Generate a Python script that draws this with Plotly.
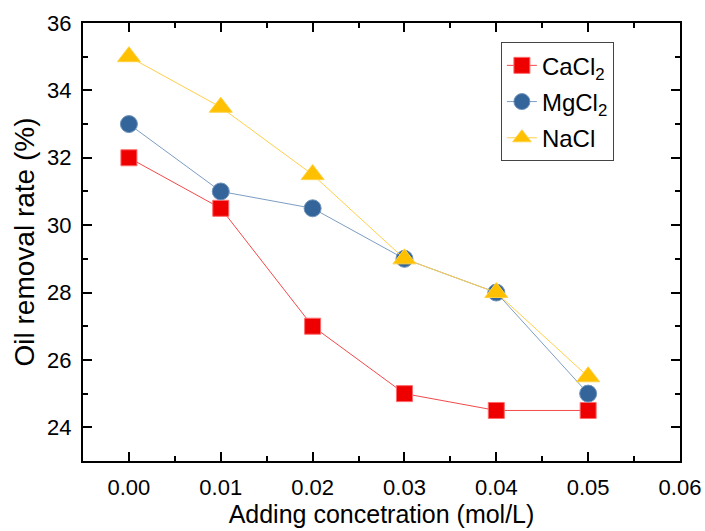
import plotly.graph_objects as go

conc = [0.00, 0.01, 0.02, 0.03, 0.04, 0.05]
cacl2 = [32, 30.5, 27, 25, 24.5, 24.5]
mgcl2 = [33, 31, 30.5, 29, 28, 25]
nacl = [35, 33.5, 31.5, 29, 28, 25.5]
x_ticks = [0.00, 0.01, 0.02, 0.03, 0.04, 0.05, 0.06]
x_tick_labels = ["0.00", "0.01", "0.02", "0.03", "0.04", "0.05", "0.06"]
y_ticks = [24, 26, 28, 30, 32, 34, 36]

FONT = "Liberation Sans, Arial"

fig = go.Figure()
fig.add_trace(go.Scatter(
    x=conc, y=cacl2, name="CaCl<sub>2</sub>", mode="lines+markers", legendgroup="a",
    line=dict(color="#f24a4a", width=1),
    marker=dict(symbol="square", size=16, color="#ee0000",
                line=dict(color="#ff6a6a", width=1)),
))
fig.add_trace(go.Scatter(
    x=conc, y=mgcl2, name="MgCl<sub>2</sub>", mode="lines+markers", legendgroup="b",
    line=dict(color="#7d9dc2", width=1),
    marker=dict(symbol="circle", size=17, color="#33659a",
                line=dict(color="#6f93bb", width=1)),
))
fig.add_trace(go.Scatter(
    x=conc, y=nacl, name="NaCl", mode="lines+markers", legendgroup="c",
    line=dict(color="#ffcf4a", width=1),
    marker=dict(symbol="triangle-up", size=20, color="#ffc000",
                line=dict(color="#ffd040", width=1)),
))

axis_common = dict(
    showline=True, linecolor="black", linewidth=2, mirror="ticks",
    ticks="inside", ticklen=9, tickwidth=2, tickcolor="black",
    showgrid=False, zeroline=False, automargin=False,
    tickfont=dict(family=FONT, size=22, color="black"),
)

fig.update_xaxes(
    range=[-0.005, 0.06], tickvals=x_ticks, ticktext=x_tick_labels,
    ticklabelstandoff=6,
    minor=dict(ticks="inside", ticklen=5, tickwidth=2, tickcolor="black", dtick=0.005, tick0=0.005),
    title=dict(text="Adding concetration (mol/L)", standoff=3,
               font=dict(family=FONT, size=25, color="black")),
    **axis_common,
)
fig.update_yaxes(
    range=[23, 36], tickvals=y_ticks,
    ticklabelstandoff=5,
    minor=dict(ticks="inside", ticklen=5, tickwidth=2, tickcolor="black", dtick=1, tick0=23),
    title=dict(text="Oil removal rate (%)", standoff=4,
               font=dict(family=FONT, size=28, color="black")),
    **axis_common,
)

fig.update_layout(
    width=705, height=531,
    margin=dict(l=83, r=25, t=23, b=70),
    paper_bgcolor="white", plot_bgcolor="white",
    showlegend=True,
    legend=dict(
        x=0.70, y=0.956, xanchor="left", yanchor="top",
        bordercolor="#444444", borderwidth=1, bgcolor="white",
        font=dict(family=FONT, size=24, color="black"),
        tracegroupgap=2, itemsizing="trace",
    ),
)

fig.write_html(
    "out.html",
    config={"displayModeBar": False},
    post_script="document.body.style.margin='0';document.body.style.overflow='hidden';",
)
